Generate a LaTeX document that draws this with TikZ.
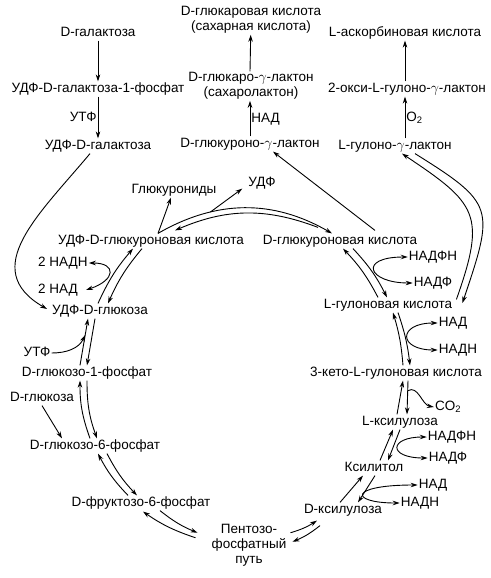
\documentclass[tikz,border=0pt]{standalone}
\usepackage{fontspec}
\setmainfont{Liberation Sans}
\usepackage{tikz}
\usetikzlibrary{arrows.meta}
\tikzset{
    met/.style={inner sep=1pt, text height=10pt, text depth=2.8pt,
            font=\fontsize{13.5}{15}\selectfont},
    mettwo/.style={inner sep=1pt, align=center,
            font=\fontsize{13.5}{15}\selectfont},
    rxn/.style={-{Stealth[length=7pt,width=4.5pt]}, line width=0.9pt},
    cofac/.style={{Stealth[length=7pt,width=4.5pt]}-{Stealth[length=7pt,width=4.5pt]}, line width=0.9pt},
}

\begin{document}
\begin{tikzpicture}[x=1pt,y=1pt]
        \useasboundingbox (0,0) rectangle (490,-578);
        %metabolites, top part
        \node[met] (gal) at (98,-33) {D-галактоза};
        \node[met] (udpgal1p) at (98,-89) {УДФ-D-галактоза-1-фосфат};
        \node[met] (udpgal) at (98,-146) {УДФ-D-галактоза};
        \node[mettwo] (glucar) at (251,-20) {D-глюкаровая кислота\\(сахарная кислота)};
        \node[mettwo] (glucarlac) at (251,-86) {D-глюкаро-$\gamma$-лактон\\(сахаролактон)};
        \node[met] (glucurlac) at (250,-144) {D-глюкуроно-$\gamma$-лактон};
        \node[met] (asc) at (405,-33) {L-аскорбиновая кислота};
        \node[met] (oxygul) at (407,-89) {2-окси-L-гулоно-$\gamma$-лактон};
        \node[met] (gullac) at (395,-146) {L-гулоно-$\gamma$-лактон};
        %metabolites on the cycle
        \node[met] (glucs) at (174,-190) {Глюкурониды};
        \node[met] (udp) at (262,-183) {УДФ};
        \node[met] (udpglucur) at (151,-241) {УДФ-D-глюкуроновая кислота};
        \node[met] (glucur) at (340,-241) {D-глюкуроновая кислота};
        \node[met] (nadph1) at (433,-257) {НАДФН};
        \node[met] (nadp1) at (433,-283) {НАДФ};
        \node[met] (gulon) at (388,-305) {L-гулоновая кислота};
        \node[met] (nad1) at (453,-323) {НАД};
        \node[met] (nadh1) at (458,-350) {НАДН};
        \node[met] (keto) at (396,-373) {3-кето-L-гулоновая кислота};
        \node[met,anchor=west] (nadh2) at (37,-263) {2 НАДН};
        \node[met,anchor=west] (nad2) at (37,-290) {2 НАД};
        \node[met] (udpglc) at (100,-311) {УДФ-D-глюкоза};
        \node[met] (utp2) at (37,-353) {УТФ};
        \node[met] (glc1p) at (87,-373) {D-глюкозо-1-фосфат};
        \node[met] (glc) at (42,-398) {D-глюкоза};
        \node[met] (glc6p) at (95,-446) {D-глюкозо-6-фосфат};
        \node[met] (fru6p) at (141,-503) {D-фруктозо-6-фосфат};
        \node[mettwo] (ppp) at (249,-545) {Пентозо-\\фосфатный\\путь};
        \node[met] (co2) at (448,-407) {CO\textsubscript{2}};
        \node[met] (lxyl) at (400,-422) {L-ксилулоза};
        \node[met] (nadph3) at (452,-437) {НАДФН};
        \node[met] (nadp3) at (448,-458) {НАДФ};
        \node[met] (xylitol) at (374,-468) {Ксилитол};
        \node[met] (nad3) at (433,-485) {НАД};
        \node[met] (nadh3) at (420,-503) {НАДН};
        \node[met] (dxyl) at (343,-510) {D-ксилулоза};
        %straight arrows at the top
        \draw[rxn] (gal) -- (udpgal1p);
        \draw[rxn] (udpgal1p) -- node[met,left] (utp1) {УТФ} (udpgal);
        \draw[rxn] (glucurlac.north) -- node[met,right] (nadlab) {НАД} (glucurlac.north |- glucarlac.south);
        \draw[rxn] (glucarlac.north -| glucurlac) -- (glucar);
        \draw[rxn] (gullac.north -| asc) -- node[met,right] (o2) {O\textsubscript{2}} (oxygul.south -| asc);
        \draw[rxn] (oxygul.north -| asc) -- (asc);
        \draw[rxn] ([xshift=-8pt]udpgal.south) .. controls +(-51,-61) and +(-69,40) .. ([xshift=-4pt,yshift=2pt]udpglc.west);
        \draw[rxn] ([xshift=35pt,yshift=3pt]glucur.north) -- ([xshift=23pt]glucurlac.south);
        %the cycle, two arrows per step
        \draw[rxn] ([xshift=7pt]udpglucur.north) to[bend left=30] coordinate[pos=0.3] (udpjoin) ([xshift=-8pt]glucur.north);
        \draw[rxn] ([xshift=-22pt,yshift=6pt]glucur.north) to[bend right=22] ([xshift=24pt,yshift=3pt]udpglucur.north);
        \draw[rxn] ([xshift=7pt]udpglucur.north) -- ([xshift=-3pt]glucs.south);
        \draw[rxn] (udpjoin) -- ([xshift=-5pt,yshift=2pt]udp.south west);
        \draw[rxn] ([xshift=-10pt]gulon.north) to[bend right=8] ([xshift=3pt]glucur.south);
        \draw[rxn] ([xshift=13pt]glucur.south) to[bend left=8] ([xshift=-1pt]gulon.north);
        \draw[cofac] (nadph1.west) .. controls +(-50,0) and +(-45,0) .. (nadp1.west);
        \draw[rxn] ([xshift=7pt]keto.north) to[bend right=6] ([xshift=5pt]gulon.south);
        \draw[rxn] ([xshift=10pt]gulon.south) to[bend left=6] ([xshift=14pt]keto.north);
        \draw[cofac] (nad1.west) .. controls +(-40,0) and +(-40,0) .. (nadh1.west);
        \draw[rxn] ([xshift=-3pt]lxyl.north) -- ([xshift=7pt]keto.south);
        \draw[rxn] ([xshift=12pt]keto.south) -- coordinate[pos=0.3] (co2join) ([xshift=7pt]lxyl.north);
        \draw[rxn] (co2join) to[out=30,in=170] (co2.west);
        \draw[rxn] ([xshift=6pt]xylitol.north) -- ([xshift=-7pt]lxyl.south);
        \draw[rxn] (lxyl.south) -- ([xshift=14pt]xylitol.north);
        \draw[cofac] (nadph3.west) .. controls +(-38,0) and +(-40,0) .. (nadp3.west);
        \draw[rxn] ([xshift=-3pt]dxyl.north) -- ([xshift=-11pt]xylitol.south);
        \draw[rxn] ([xshift=1pt]xylitol.south) -- ([xshift=15pt]dxyl.north);
        \draw[cofac] (nad3.west) .. controls +(-70,0) and +(-50,0) .. (nadh3.west);
        \draw[rxn] ([xshift=3pt,yshift=-10pt]ppp.north east) to[bend right=8] ([xshift=-26pt,yshift=-3pt]dxyl.south);
        \draw[rxn] ([xshift=-23pt,yshift=-8pt]dxyl.south) to[bend left=8] ([xshift=5pt,yshift=-19pt]ppp.north east);
        \draw[rxn] ([xshift=19pt]fru6p.south) to[bend right=8] ([xshift=-13pt,yshift=-10pt]ppp.north west);
        \draw[rxn] ([xshift=-15pt,yshift=-15pt]ppp.north west) to[bend left=8] ([xshift=2pt,yshift=-1pt]fru6p.south);
        \draw[rxn] ([xshift=-13pt]fru6p.north) to[bend left=8] ([xshift=3pt]glc6p.south);
        \draw[rxn] ([xshift=12pt]glc6p.south) to[bend right=8] ([xshift=-4pt]fru6p.north);
        \draw[rxn] ([xshift=-5pt]glc6p.north) to[bend left=10] ([xshift=-7pt]glc1p.south);
        \draw[rxn] (glc1p.south) to[bend right=10] ([xshift=2pt]glc6p.north);
        \draw[rxn] (glc.south) -- ([xshift=-33pt]glc6p.north);
        \draw[rxn] ([xshift=-7pt]glc1p.north) -- coordinate[pos=0.65] (utpjoin) ([xshift=-12pt]udpglc.south);
        \draw[rxn] ([xshift=-5pt]udpglc.south) -- (glc1p.north);
        \draw[rxn] (utp2.east) to[out=0,in=-115] (utpjoin);
        \draw[rxn] ([xshift=-2pt]udpglc.north) to[bend left=8] ([xshift=-18pt]udpglucur.south);
        \draw[rxn] ([xshift=-9pt]udpglucur.south) to[bend right=8] ([xshift=8pt]udpglc.north);
        \draw[cofac] (nadh2.east) .. controls +(28,0) and +(30,10) .. ([xshift=7pt]nad2.east);
        %long arcs on the right
        \draw[rxn] ([xshift=3pt,yshift=-2pt]gulon.north east) .. controls +(30,85) and +(75,-50) .. ([xshift=7pt]gullac.south);
        \draw[rxn] ([xshift=20pt]gullac.south) .. controls +(80,-50) and +(32,95) .. ([xshift=9pt,yshift=2pt]gulon.east);
\end{tikzpicture}
\end{document}
